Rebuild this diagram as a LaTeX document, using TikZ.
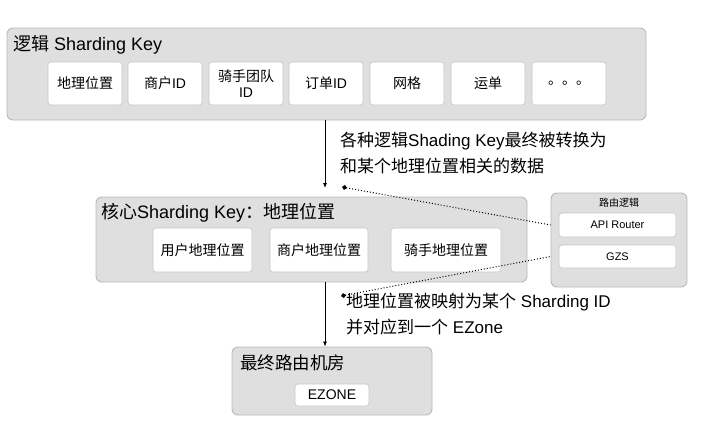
\documentclass[tikz,border=0pt]{standalone}
\usepackage{fontspec}
\setmainfont{Liberation Sans}
\newfontfamily\cjk{Noto Sans CJK SC}
\usetikzlibrary{arrows.meta}
\definecolor{groupfill}{HTML}{DFDFE0}
\definecolor{groupline}{HTML}{B9B9BB}
\definecolor{itemline}{HTML}{C6C6C6}
\begin{document}
\begin{tikzpicture}[x=1pt,y=-1pt,
  group/.style={draw=groupline, fill=groupfill, rounded corners=6pt, line width=0.9pt, inner sep=0pt},
  item/.style={draw=itemline, fill=white, rounded corners=3pt, line width=0.6pt, inner sep=0pt, align=center, font=\fontsize{14}{16}\selectfont},
  smallitem/.style={item, font=\fontsize{11}{13}\selectfont},
  title/.style={anchor=west, inner sep=0pt, font=\fontsize{18}{20}\selectfont},
  note/.style={anchor=west, inner sep=0pt, align=left, font=\fontsize{17}{25.5}\selectfont},
  flow/.style={draw=black, line width=0.8pt, -{Latex[length=5pt,width=4pt]}},
  link/.style={draw=black, line width=1pt, dotted, {Diamond[length=5pt,width=5pt]}-}]
\useasboundingbox (0,0) rectangle (720,440);
\fill[white] (0,0) rectangle (720,440);

% top group
\node[group, minimum width=639pt, minimum height=92pt] (topgrp) at (326.5,74) {};
\node[title] (toptitle) at (13,45) {{\cjk 逻辑} Sharding Key};
\foreach \name/\cx/\txt in {k1/85/{\cjk 地理位置}, k2/165/{{\cjk 商户}ID}, k3/246/{{\cjk 骑手团队}\\ID}, k4/326/{{\cjk 订单}ID}, k5/407/{\cjk 网格}, k6/488/{\cjk 运单}, k7/569/{\cjk 。。。}}
  \node[item, minimum width=74pt, minimum height=43pt] (\name) at (\cx,83.5) {\txt};

% middle group
\node[group, minimum width=431pt, minimum height=85pt] (midgrp) at (311.5,239.5) {};
\node[title] (midtitle) at (101,213) {{\cjk 核心}Sharding Key{\cjk ：地理位置}};
\node[item, minimum width=99pt, minimum height=44pt] (m1) at (202.5,250) {\cjk 用户地理位置};
\node[item, minimum width=98pt, minimum height=44pt] (m2) at (319,250) {\cjk 商户地理位置};
\node[item, minimum width=110pt, minimum height=44pt] (m3) at (446,250) {\cjk 骑手地理位置};

% right group
\node[group, minimum width=136pt, minimum height=94pt] (rgrp) at (619,240) {};
\node[inner sep=0pt, font=\fontsize{10}{12}\selectfont] (rtitle) at (619,203) {\cjk 路由逻辑};
\node[smallitem, minimum width=117pt, minimum height=24pt] (api) at (617.5,225) {API Router};
\node[smallitem, minimum width=117pt, minimum height=23pt] (gzs) at (617.5,256.5) {GZS};

% bottom group
\node[group, minimum width=200pt, minimum height=68pt] (botgrp) at (332,381) {};
\node[title, font=\fontsize{17.5}{20}\selectfont] (bottitle) at (240,363) {\cjk 最终路由机房};
\node[item, minimum width=74pt, minimum height=22pt] (ez) at (332,395) {EZONE};

% notes
\node[note] (note1) at (340,153) {{\cjk 各种逻辑}Shading Key{\cjk 最终被转换为}\\{\cjk 和某个地理位置相关的数据}};
\node[note] (note2) at (346,314) {{\cjk 地理位置被映射为某个} Sharding ID\\{\cjk 并对应到一个} EZone};

% connectors
\coordinate (a1end) at (325,188);
\coordinate (d1) at (342,187);
\coordinate (d2) at (341,296);
\draw[flow] (topgrp.south -| a1end) -- (a1end);
\draw[flow] (midgrp.south -| a1end) -- (botgrp.north -| a1end);
\draw[link] (d1) -- (api.west -| rgrp.west);
\draw[link] (d2) -- (gzs.west -| rgrp.west);
\end{tikzpicture}
\end{document}
